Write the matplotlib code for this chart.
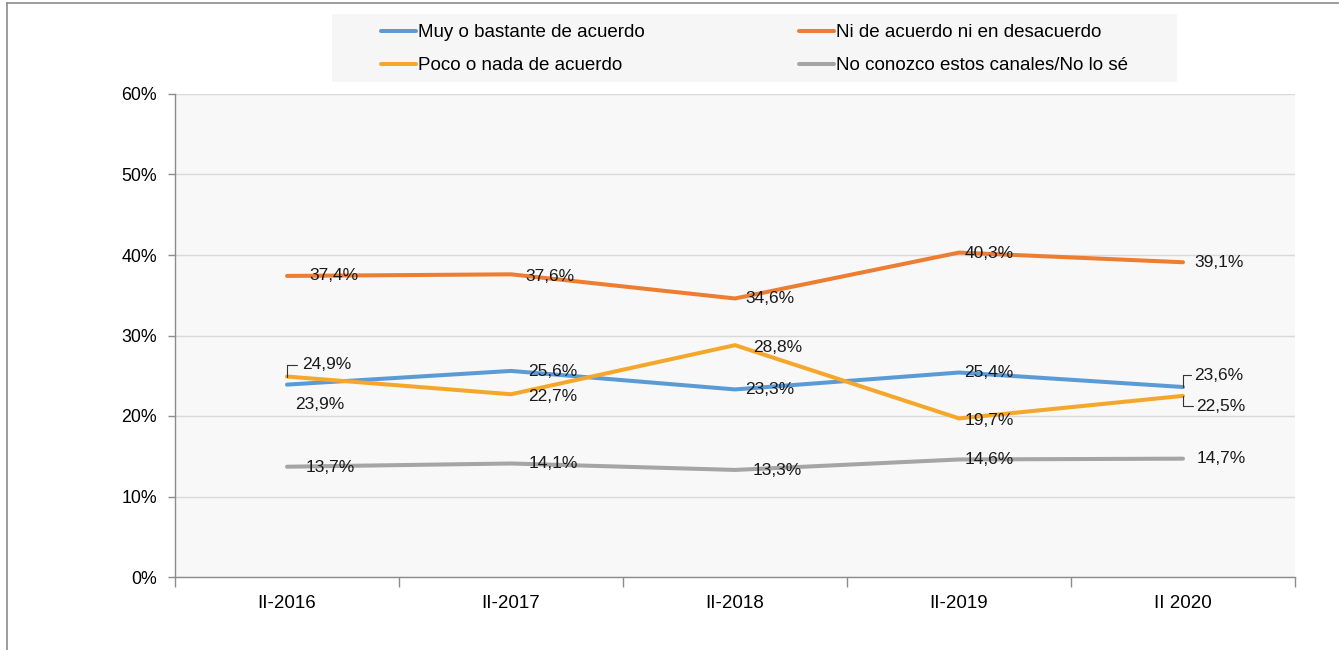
import matplotlib
matplotlib.use("Agg")
import matplotlib.pyplot as plt
from matplotlib.patches import Rectangle
from matplotlib.ticker import FixedLocator

plt.rcParams["font.family"] = ["Liberation Sans", "DejaVu Sans"]

# -----------------------------
# Data
# -----------------------------
periods = ["II-2016", "II-2017", "II-2018", "II-2019", "II 2020"]
series_names = [
    "Muy o bastante de acuerdo",
    "Ni de acuerdo ni en desacuerdo",
    "Poco o nada de acuerdo",
    "No conozco estos canales/No lo sé",
]
muy_acuerdo = [23.9, 25.6, 23.3, 25.4, 23.6]
ni_acuerdo = [37.4, 37.6, 34.6, 40.3, 39.1]
poco_acuerdo = [24.9, 22.7, 28.8, 19.7, 22.5]
no_conozco = [13.7, 14.1, 13.3, 14.6, 14.7]
y_ticks = [0, 10, 20, 30, 40, 50, 60]

# -----------------------------
# Styles
# -----------------------------
colors = ["#5B9BD5", "#ED7D31", "#F4A72B", "#A5A5A5"]

# label offsets in pixels (dx, dy) from each point
label_offsets = [
    [(33, -20), (42, -1), (35, 0), (30, 0), (36, 12)],
    [(47, 0), (39, -2), (35, 0), (30, -1), (36, 0)],
    [(40, 12), (42, -2), (43, -2), (30, -2), (38, -11)],
    [(43, -1), (42, 0), (42, -1), (30, 0), (38, 0)],
]
# leader lines: (series index, point index, dx, dy)
leaders = [(2, 0, 10, 12), (0, 4, 8, 12), (2, 4, 10, -10)]

W, H = 1339, 650
fig = plt.figure(figsize=(W / 100, H / 100), dpi=100)
fig.patch.set_facecolor("white")

# outer chart border (top and left visible)
fig.add_artist(plt.Line2D([7 / W, 1], [1 - 3 / H, 1 - 3 / H], color="#8c8c8c", lw=1.2))
fig.add_artist(plt.Line2D([7 / W, 7 / W], [0, 1 - 3 / H], color="#8c8c8c", lw=1.2))

ax = fig.add_axes([175 / W, 1 - 577 / H, 1120 / W, 483 / H])
ax.set_facecolor("#f8f8f8")

x = list(range(len(periods)))
all_series = [muy_acuerdo, ni_acuerdo, poco_acuerdo, no_conozco]
draw_order = [3, 0, 1, 2]
lines = {}
for i in draw_order:
    (ln,) = ax.plot(x, all_series[i], color=colors[i], lw=2.9,
                    solid_capstyle="round", label=series_names[i], zorder=3)
    lines[i] = ln

for i, vals in enumerate(all_series):
    for j, v in enumerate(vals):
        dx, dy = label_offsets[i][j]
        ax.annotate(f"{v:.1f}%".replace(".", ","), xy=(j, v), xytext=(dx, dy),
                    textcoords="offset pixels", ha="center", va="center",
                    fontsize=12.5, color="#1a1a1a", zorder=5)

for si, pj, dx, dy in leaders:
    ax.annotate("", xy=(pj, all_series[si][pj]), xytext=(dx, dy),
                textcoords="offset pixels",
                arrowprops=dict(arrowstyle="-", color="#333333", lw=0.8,
                                connectionstyle="angle,angleA=0,angleB=90,rad=0",
                                shrinkA=0, shrinkB=0), zorder=4)

ax.set_xlim(-0.5, len(periods) - 0.5)
ax.set_ylim(0, 60)
ax.set_yticks(y_ticks)
ax.set_yticklabels([f"{t}%" for t in y_ticks], fontsize=12.8)
ax.set_xticks(x)
ax.set_xticklabels(periods, fontsize=13.5)
ax.xaxis.set_minor_locator(FixedLocator([k - 0.5 for k in range(len(periods) + 1)]))
ax.tick_params(axis="x", which="major", length=0, pad=13)
ax.tick_params(axis="x", which="minor", length=7, color="#8c8c8c", width=1)
ax.tick_params(axis="y", length=5, color="#8c8c8c", width=1, pad=8)

ax.grid(axis="y", color="#d9d9d9", lw=1)
ax.set_axisbelow(True)
for s in ["top", "right"]:
    ax.spines[s].set_visible(False)
for s in ["left", "bottom"]:
    ax.spines[s].set_color("#8c8c8c")
    ax.spines[s].set_linewidth(1)

# legend (filled row by row, as in the original)
fig.add_artist(Rectangle((332 / W, 1 - 82 / H), 845 / W, 68 / H,
                         transform=fig.transFigure, facecolor="#f6f6f6",
                         edgecolor="none", zorder=0))
legend_order = [0, 2, 1, 3]
fig.legend([lines[i] for i in legend_order], [series_names[i] for i in legend_order],
           ncol=2, frameon=False, fontsize=13.5,
           loc="upper left", bbox_to_anchor=(366 / W, 1 - 9 / H),
           handlelength=1.87, handletextpad=0.12, columnspacing=8.2,
           labelspacing=0.85, borderpad=0.3)

plt.savefig("out.png", dpi=100)
plt.close()
